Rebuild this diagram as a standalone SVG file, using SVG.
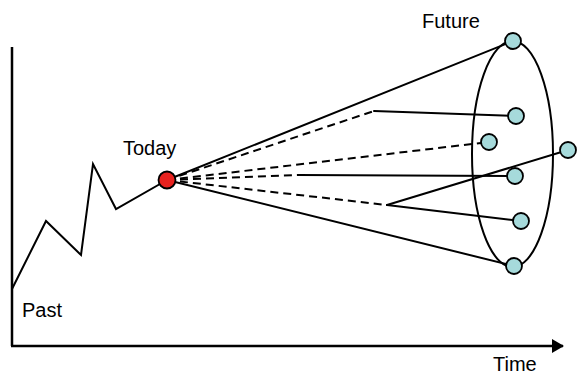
<svg xmlns="http://www.w3.org/2000/svg" width="577" height="372" viewBox="0 0 577 372">
<defs>
<style>
.ln{stroke:#000;stroke-width:2;fill:none;stroke-linecap:round;stroke-linejoin:miter}
.ds{stroke:#000;stroke-width:2;fill:none;stroke-dasharray:8,5}
.tc{fill:#a6dadb;stroke:#000;stroke-width:1.8}
.rc{fill:#e8221f;stroke:#000;stroke-width:1.8}
.lbl{font-family:"Liberation Sans",Arial,sans-serif;font-size:20px;fill:#000}
</style>
<marker id="arr" markerWidth="12" markerHeight="14" refX="11" refY="7" orient="auto" markerUnits="userSpaceOnUse">
<path d="M0,0 L12,7 L0,14 Z" fill="#000"/>
</marker>
</defs>
<rect width="577" height="372" fill="#fff"/>
<g id="axes">
<line x1="12" y1="47" x2="12" y2="346" stroke="#000" stroke-width="2.5"/>
<line x1="11" y1="346" x2="563" y2="346" stroke="#000" stroke-width="2.5" marker-end="url(#arr)"/>
</g>
<g id="connectors">
<polyline class="ln" points="12,289 46,221 81,255 93,164 116,209 167,180"/>
<line class="ln" x1="167" y1="180" x2="513" y2="41"/>
<line class="ln" x1="167" y1="180" x2="514" y2="266"/>
<line class="ds" x1="167" y1="180" x2="374" y2="111"/>
<line class="ln" x1="374" y1="111" x2="516" y2="116"/>
<line class="ds" x1="167" y1="180" x2="481" y2="143"/>
<line class="ds" x1="167" y1="180" x2="298" y2="175"/>
<line class="ln" x1="298" y1="175" x2="515" y2="176"/>
<line class="ds" x1="167" y1="180" x2="387" y2="205"/>
<line class="ln" x1="387" y1="205" x2="568" y2="150"/>
<line class="ln" x1="387" y1="205" x2="521" y2="221"/>
</g>
<g id="future-cone">
<ellipse cx="512.5" cy="154" rx="40.5" ry="113" fill="none" stroke="#000" stroke-width="2"/>
</g>
<g id="today"><circle class="rc" cx="167" cy="180" r="8.5"/><text class="lbl" x="123" y="155">Today</text></g>
<g id="past"><text class="lbl" x="22" y="317">Past</text></g>
<g id="future"><text class="lbl" x="422" y="28">Future</text></g>
<g id="time"><text class="lbl" x="493" y="371">Time</text></g>
<g id="f1"><circle class="tc" cx="513" cy="41" r="8"/></g>
<g id="f2"><circle class="tc" cx="516" cy="116" r="8"/></g>
<g id="f3"><circle class="tc" cx="489" cy="142" r="8"/></g>
<g id="f4"><circle class="tc" cx="568" cy="150" r="8"/></g>
<g id="f5"><circle class="tc" cx="515" cy="176" r="8"/></g>
<g id="f6"><circle class="tc" cx="521" cy="221" r="8"/></g>
<g id="f7"><circle class="tc" cx="514" cy="266" r="8"/></g>
</svg>
